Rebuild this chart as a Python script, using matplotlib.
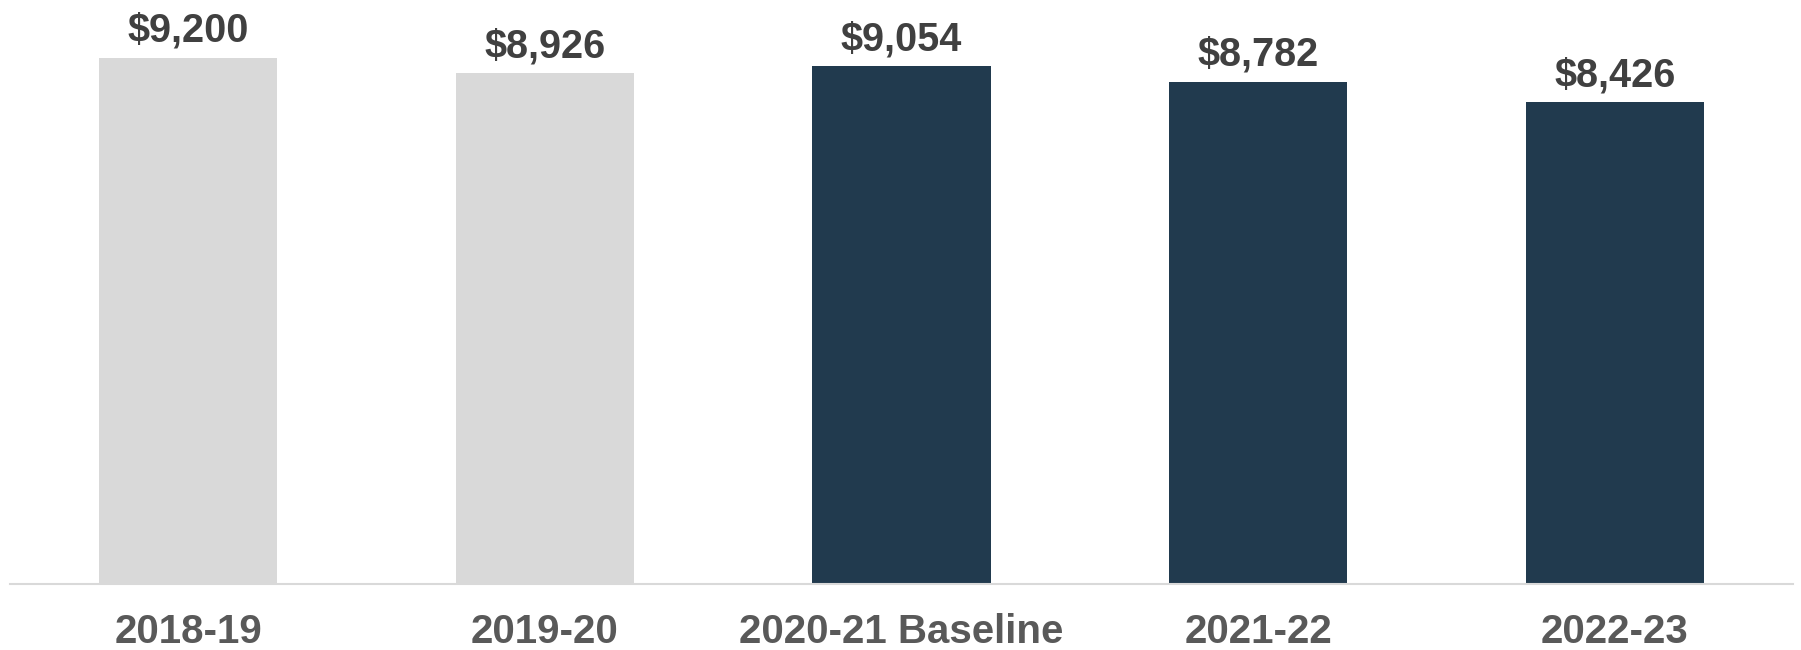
import matplotlib.pyplot as plt

# 数据
years = ['2018-19', '2019-20', '2020-21 Baseline', '2021-22', '2022-23']
values = [9200, 8926, 9054, 8782, 8426]
colors = ['#d9d9d9', '#d9d9d9', '#213a4e', '#213a4e', '#213a4e']

plt.rcParams['font.family'] = ['Liberation Sans', 'DejaVu Sans']

fig = plt.figure(figsize=(18.01, 6.5), dpi=100)
ax = fig.add_axes([10 / 1801, 1 - 584 / 650, 1783 / 1801, 572 / 650])

x = range(len(years))
bars = ax.bar(x, values, width=0.5, color=colors, zorder=2)

# 数值标签
for rect, v in zip(bars, values):
    ax.annotate(f'${v:,}', (rect.get_x() + rect.get_width() / 2, v),
                xytext=(0, 11.5), textcoords='offset points',
                ha='center', va='baseline', fontsize=28.5,
                fontweight='bold', color='#404040')

ax.set_xlim(-0.5, 4.5)
ax.set_ylim(0, 10000)
ax.set_xticks(list(x))
ax.set_xticklabels(years, fontsize=29, fontweight='bold', color='#595959')
ax.tick_params(axis='x', length=0, pad=21)
ax.set_yticks([])

for side in ['top', 'right', 'left']:
    ax.spines[side].set_visible(False)
ax.spines['bottom'].set_color('#d9d9d9')
ax.spines['bottom'].set_linewidth(1.5)

fig.savefig('out.png', dpi=100)
